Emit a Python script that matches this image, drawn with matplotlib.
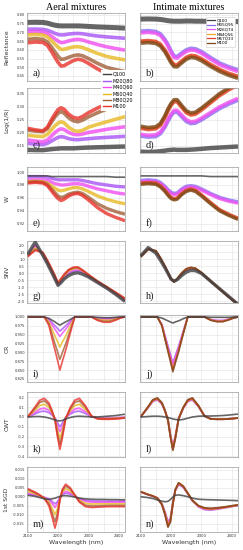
import matplotlib
matplotlib.use("Agg")
import matplotlib.pyplot as plt
from matplotlib.lines import Line2D
from matplotlib.ticker import MultipleLocator

plt.rcParams["axes.unicode_minus"] = False

W, H = 243, 550

# wavelength grids (nm)
wl_spec = [2100, 2125, 2150, 2165, 2180, 2190, 2200, 2210, 2220, 2235, 2250, 2265, 2280, 2300, 2330, 2360, 2390, 2420]
wl_deriv = [2100, 2125, 2140, 2155, 2170, 2180, 2190, 2198, 2206, 2214, 2225, 2240, 2255, 2270, 2290, 2310, 2330, 2350, 2370, 2390, 2405, 2420]

aeral_names = ["Q100", "M20Q80", "M40Q60", "M60Q40", "M80Q20", "M100"]
intimate_names = ["Q100", "M05Q95", "M26Q74", "M44Q56", "M67Q33", "M100"]
aeral_colors = ["#404040", "#a855f7", "#f04cf0", "#e8b923", "#a0613a", "#e8322b"]
intimate_colors = ["#404040", "#8a6cf0", "#f050f0", "#f5a623", "#e0402a", "#7a4a1e"]

# a) reflectance, aeral
refl_aeral = [
    [0.757, 0.758, 0.757, 0.753, 0.745, 0.741, 0.738, 0.737, 0.737, 0.737, 0.737, 0.737, 0.736, 0.734, 0.731, 0.729, 0.727, 0.724],
    [0.718, 0.719, 0.717, 0.712, 0.702, 0.694, 0.688, 0.685, 0.686, 0.690, 0.693, 0.694, 0.692, 0.686, 0.679, 0.674, 0.670, 0.666],
    [0.702, 0.704, 0.701, 0.693, 0.675, 0.662, 0.650, 0.641, 0.643, 0.651, 0.657, 0.660, 0.656, 0.645, 0.630, 0.617, 0.607, 0.598],
    [0.685, 0.688, 0.685, 0.674, 0.650, 0.632, 0.615, 0.602, 0.603, 0.610, 0.616, 0.618, 0.613, 0.600, 0.579, 0.562, 0.551, 0.542],
    [0.660, 0.664, 0.660, 0.645, 0.612, 0.587, 0.563, 0.545, 0.547, 0.557, 0.566, 0.571, 0.566, 0.550, 0.522, 0.499, 0.486, 0.475],
    [0.640, 0.645, 0.642, 0.625, 0.586, 0.556, 0.528, 0.507, 0.509, 0.524, 0.538, 0.546, 0.541, 0.522, 0.490, 0.462, 0.447, 0.436],
]
# b) reflectance, intimate
refl_intimate = [
    [0.776, 0.777, 0.776, 0.774, 0.770, 0.767, 0.765, 0.764, 0.764, 0.764, 0.765, 0.765, 0.764, 0.764, 0.763, 0.763, 0.762, 0.762],
    [0.707, 0.710, 0.705, 0.692, 0.660, 0.630, 0.595, 0.565, 0.562, 0.582, 0.600, 0.609, 0.606, 0.590, 0.556, 0.524, 0.503, 0.485],
    [0.697, 0.700, 0.695, 0.682, 0.650, 0.620, 0.585, 0.555, 0.552, 0.572, 0.590, 0.599, 0.596, 0.580, 0.546, 0.514, 0.493, 0.475],
    [0.645, 0.648, 0.643, 0.628, 0.594, 0.564, 0.532, 0.510, 0.509, 0.531, 0.552, 0.563, 0.560, 0.544, 0.511, 0.482, 0.460, 0.443],
    [0.650, 0.653, 0.648, 0.633, 0.599, 0.569, 0.537, 0.515, 0.514, 0.536, 0.557, 0.568, 0.565, 0.549, 0.516, 0.487, 0.465, 0.448],
    [0.638, 0.641, 0.636, 0.621, 0.587, 0.557, 0.525, 0.503, 0.502, 0.524, 0.545, 0.556, 0.553, 0.537, 0.504, 0.475, 0.453, 0.436],
]
# c) log(1/R), aeral
logr_aeral = [
    [0.135, 0.134, 0.134, 0.136, 0.138, 0.139, 0.140, 0.141, 0.141, 0.141, 0.141, 0.142, 0.143, 0.144, 0.145, 0.146, 0.147, 0.148],
    [0.160, 0.157, 0.155, 0.160, 0.170, 0.177, 0.183, 0.186, 0.184, 0.178, 0.175, 0.174, 0.176, 0.178, 0.181, 0.183, 0.185, 0.187],
    [0.173, 0.169, 0.166, 0.173, 0.190, 0.202, 0.211, 0.216, 0.213, 0.202, 0.195, 0.193, 0.196, 0.202, 0.208, 0.214, 0.219, 0.224],
    [0.192, 0.188, 0.186, 0.195, 0.215, 0.228, 0.238, 0.243, 0.239, 0.222, 0.210, 0.206, 0.210, 0.222, 0.233, 0.243, 0.253, 0.263],
    [0.211, 0.207, 0.205, 0.217, 0.245, 0.262, 0.276, 0.282, 0.276, 0.258, 0.247, 0.243, 0.249, 0.262, 0.278, 0.292, 0.304, 0.314],
    [0.218, 0.212, 0.208, 0.222, 0.254, 0.273, 0.290, 0.297, 0.291, 0.272, 0.260, 0.256, 0.263, 0.278, 0.296, 0.311, 0.323, 0.335],
]
# d) log(1/R), intimate
logr_intimate = [
    [0.128, 0.127, 0.128, 0.130, 0.132, 0.134, 0.135, 0.136, 0.135, 0.135, 0.135, 0.136, 0.137, 0.139, 0.142, 0.144, 0.146, 0.148],
    [0.188, 0.184, 0.186, 0.197, 0.222, 0.245, 0.266, 0.280, 0.280, 0.262, 0.244, 0.236, 0.238, 0.250, 0.272, 0.294, 0.311, 0.326],
    [0.195, 0.191, 0.193, 0.204, 0.229, 0.252, 0.273, 0.287, 0.287, 0.269, 0.251, 0.243, 0.245, 0.257, 0.279, 0.301, 0.318, 0.333],
    [0.222, 0.217, 0.220, 0.233, 0.263, 0.289, 0.310, 0.324, 0.324, 0.302, 0.282, 0.273, 0.276, 0.292, 0.320, 0.348, 0.370, 0.389],
    [0.218, 0.213, 0.216, 0.229, 0.259, 0.285, 0.306, 0.320, 0.320, 0.298, 0.278, 0.269, 0.272, 0.288, 0.316, 0.344, 0.366, 0.385],
    [0.226, 0.221, 0.224, 0.237, 0.267, 0.293, 0.314, 0.328, 0.328, 0.306, 0.286, 0.277, 0.280, 0.296, 0.324, 0.352, 0.374, 0.393],
]
# e) W, aeral
w_aeral = [
    [0.994, 0.994, 0.994, 0.994, 0.993, 0.993, 0.993, 0.993, 0.993, 0.993, 0.993, 0.993, 0.993, 0.993, 0.993, 0.993, 0.992, 0.992],
    [0.993, 0.993, 0.993, 0.992, 0.990, 0.989, 0.988, 0.988, 0.988, 0.988, 0.988, 0.988, 0.987, 0.985, 0.982, 0.980, 0.978, 0.977],
    [0.988, 0.988, 0.988, 0.987, 0.984, 0.982, 0.981, 0.980, 0.980, 0.981, 0.982, 0.982, 0.981, 0.978, 0.974, 0.971, 0.968, 0.966],
    [0.985, 0.986, 0.985, 0.983, 0.978, 0.975, 0.972, 0.971, 0.972, 0.974, 0.976, 0.976, 0.974, 0.970, 0.963, 0.958, 0.954, 0.951],
    [0.984, 0.985, 0.984, 0.981, 0.973, 0.968, 0.963, 0.961, 0.962, 0.966, 0.968, 0.969, 0.967, 0.961, 0.951, 0.944, 0.939, 0.935],
    [0.983, 0.984, 0.983, 0.979, 0.970, 0.964, 0.959, 0.956, 0.958, 0.963, 0.966, 0.967, 0.964, 0.957, 0.945, 0.936, 0.930, 0.925],
]
# f) W, intimate
w_intimate = [
    [0.994, 0.994, 0.994, 0.994, 0.994, 0.994, 0.994, 0.994, 0.994, 0.994, 0.994, 0.994, 0.994, 0.994, 0.993, 0.993, 0.993, 0.993],
    [0.987, 0.988, 0.987, 0.984, 0.978, 0.973, 0.969, 0.967, 0.968, 0.974, 0.978, 0.979, 0.978, 0.974, 0.967, 0.961, 0.957, 0.954],
    [0.985, 0.986, 0.985, 0.982, 0.976, 0.971, 0.967, 0.965, 0.966, 0.972, 0.976, 0.977, 0.976, 0.972, 0.965, 0.959, 0.955, 0.952],
    [0.982, 0.983, 0.982, 0.978, 0.971, 0.965, 0.960, 0.958, 0.959, 0.966, 0.971, 0.973, 0.971, 0.964, 0.952, 0.941, 0.934, 0.928],
    [0.983, 0.984, 0.983, 0.979, 0.972, 0.966, 0.961, 0.959, 0.960, 0.967, 0.972, 0.974, 0.972, 0.965, 0.953, 0.942, 0.935, 0.929],
    [0.981, 0.982, 0.981, 0.977, 0.970, 0.964, 0.959, 0.957, 0.958, 0.965, 0.970, 0.972, 0.970, 0.963, 0.951, 0.940, 0.933, 0.927],
]
# g) SNV, aeral
snv_aeral = [
    [1.35, 2.25, 1.30, 0.70, 0.05, -0.40, -0.85, -0.65, -0.40, -0.15, 0.00, 0.05, -0.05, -0.25, -0.65, -1.05, -1.50, -2.00],
    [1.30, 2.05, 1.35, 0.75, 0.10, -0.35, -0.80, -0.55, -0.30, 0.00, 0.15, 0.20, 0.10, -0.20, -0.62, -1.02, -1.45, -1.92],
    [1.28, 1.95, 1.40, 0.80, 0.15, -0.30, -0.76, -0.50, -0.22, 0.10, 0.25, 0.30, 0.15, -0.15, -0.60, -1.00, -1.42, -1.87],
    [1.25, 1.82, 1.45, 0.85, 0.20, -0.25, -0.72, -0.45, -0.15, 0.18, 0.33, 0.38, 0.20, -0.12, -0.58, -0.98, -1.40, -1.83],
    [1.22, 1.72, 1.48, 0.90, 0.25, -0.20, -0.70, -0.40, -0.10, 0.24, 0.40, 0.43, 0.23, -0.10, -0.56, -0.96, -1.38, -1.80],
    [1.20, 1.65, 1.50, 0.95, 0.30, -0.15, -0.68, -0.36, -0.06, 0.28, 0.44, 0.46, 0.25, -0.08, -0.55, -0.95, -1.36, -1.78],
]
# h) SNV, intimate
snv_intimate = [
    [1.25, 1.85, 1.45, 0.95, 0.40, 0.00, -0.40, -0.55, -0.45, -0.15, 0.10, 0.22, 0.20, 0.00, -0.55, -1.10, -1.65, -2.20],
    [1.22, 1.78, 1.58, 1.08, 0.48, 0.04, -0.40, -0.57, -0.42, -0.04, 0.25, 0.35, 0.31, 0.03, -0.55, -1.12, -1.67, -2.21],
    [1.21, 1.76, 1.59, 1.09, 0.49, 0.05, -0.40, -0.58, -0.41, -0.02, 0.28, 0.38, 0.33, 0.04, -0.55, -1.12, -1.68, -2.22],
    [1.20, 1.75, 1.60, 1.10, 0.50, 0.05, -0.40, -0.58, -0.40, 0.00, 0.30, 0.40, 0.35, 0.05, -0.55, -1.12, -1.68, -2.22],
    [1.19, 1.74, 1.61, 1.11, 0.51, 0.06, -0.40, -0.59, -0.39, 0.02, 0.32, 0.42, 0.36, 0.05, -0.56, -1.13, -1.69, -2.23],
    [1.18, 1.72, 1.62, 1.12, 0.52, 0.06, -0.40, -0.60, -0.38, 0.03, 0.33, 0.43, 0.37, 0.06, -0.56, -1.13, -1.69, -2.23],
]
# i) continuum removed, aeral
cr_aeral = [
    [1, 1, 1, 1, 0.996, 0.991, 0.986, 0.981, 0.977, 0.981, 0.986, 0.993, 1, 1, 1, 1, 0.999, 0.998, 0.998, 0.999, 1, 1],
    [1, 1, 1, 1, 0.994, 0.984, 0.975, 0.968, 0.960, 0.966, 0.975, 0.988, 1, 1, 1, 1, 0.997, 0.996, 0.996, 0.998, 0.999, 1],
    [1, 1, 1, 1, 0.991, 0.978, 0.965, 0.955, 0.945, 0.954, 0.965, 0.983, 1, 1, 1, 1, 0.996, 0.994, 0.994, 0.996, 0.999, 1],
    [1, 1, 1, 1, 0.986, 0.966, 0.946, 0.931, 0.915, 0.929, 0.946, 0.974, 1, 1, 1, 1, 0.994, 0.991, 0.991, 0.995, 0.998, 1],
    [1, 1, 1, 1, 0.981, 0.952, 0.924, 0.903, 0.880, 0.899, 0.924, 0.963, 1, 1, 1, 1, 0.992, 0.988, 0.988, 0.993, 0.998, 1],
    [1, 1, 1, 1, 0.976, 0.940, 0.906, 0.879, 0.850, 0.874, 0.906, 0.954, 1, 1, 1, 1, 0.990, 0.985, 0.985, 0.991, 0.997, 1],
]
# j) continuum removed, intimate
cr_intimate = [
    [1, 1, 1, 1, 0.997, 0.993, 0.989, 0.986, 0.983, 0.986, 0.989, 0.995, 1, 1, 1, 1, 0.999, 0.999, 0.999, 0.999, 1, 1],
    [1, 1, 1, 1, 0.979, 0.948, 0.918, 0.895, 0.870, 0.891, 0.918, 0.960, 1, 1, 1, 1, 0.993, 0.990, 0.990, 0.994, 0.998, 1],
    [1, 1, 1, 1, 0.978, 0.946, 0.915, 0.891, 0.865, 0.887, 0.915, 0.958, 1, 1, 1, 1, 0.993, 0.990, 0.990, 0.994, 0.998, 1],
    [1, 1, 1, 1, 0.976, 0.941, 0.907, 0.880, 0.852, 0.876, 0.907, 0.954, 1, 1, 1, 1, 0.992, 0.988, 0.988, 0.993, 0.998, 1],
    [1, 1, 1, 1, 0.976, 0.940, 0.906, 0.879, 0.850, 0.874, 0.906, 0.954, 1, 1, 1, 1, 0.991, 0.987, 0.987, 0.992, 0.997, 1],
    [1, 1, 1, 1, 0.975, 0.938, 0.902, 0.874, 0.845, 0.870, 0.902, 0.952, 1, 1, 1, 1, 0.991, 0.987, 0.987, 0.992, 0.997, 1],
]
# k) CWT, aeral
cwt_aeral = [
    [0.0, 0.005, 0.005, 0.0, -0.010, -0.020, -0.030, -0.038, -0.040, -0.035, -0.020, -0.005, 0.005, 0.008, 0.005, 0.0, 0.0, 0.005, 0.010, 0.015, 0.022, 0.028],
    [0.0, 0.033, 0.054, 0.060, 0.045, 0.021, -0.010, -0.060, -0.100, -0.065, -0.005, 0.030, 0.054, 0.060, 0.036, 0.003, -0.006, -0.007, -0.007, -0.006, -0.005, -0.003],
    [0.0, 0.050, 0.081, 0.090, 0.068, 0.032, -0.015, -0.090, -0.150, -0.098, -0.008, 0.045, 0.081, 0.090, 0.054, 0.005, -0.009, -0.011, -0.011, -0.009, -0.007, -0.005],
    [0.0, 0.072, 0.117, 0.130, 0.098, 0.046, -0.022, -0.132, -0.220, -0.143, -0.011, 0.065, 0.117, 0.130, 0.078, 0.007, -0.013, -0.016, -0.016, -0.013, -0.010, -0.007],
    [0.0, 0.091, 0.149, 0.165, 0.124, 0.058, -0.028, -0.168, -0.280, -0.182, -0.014, 0.083, 0.149, 0.165, 0.099, 0.008, -0.017, -0.020, -0.020, -0.017, -0.013, -0.008],
    [0.0, 0.105, 0.171, 0.190, 0.143, 0.067, -0.033, -0.198, -0.330, -0.215, -0.017, 0.095, 0.171, 0.190, 0.114, 0.010, -0.019, -0.023, -0.023, -0.019, -0.015, -0.010],
]
# l) CWT, intimate
cwt_intimate = [
    [0.0, 0.005, 0.008, 0.008, 0.005, 0.0, -0.005, -0.012, -0.020, -0.025, -0.030, -0.025, -0.012, 0.0, 0.008, 0.010, 0.010, 0.012, 0.015, 0.020, 0.025, 0.030],
    [0.0, 0.096, 0.158, 0.175, 0.131, 0.061, -0.030, -0.180, -0.300, -0.195, -0.015, 0.088, 0.158, 0.175, 0.105, 0.009, -0.018, -0.021, -0.021, -0.018, -0.014, -0.009],
    [0.0, 0.099, 0.162, 0.180, 0.135, 0.063, -0.031, -0.186, -0.310, -0.202, -0.016, 0.090, 0.162, 0.180, 0.108, 0.009, -0.018, -0.022, -0.022, -0.018, -0.014, -0.009],
    [0.0, 0.102, 0.167, 0.185, 0.139, 0.065, -0.032, -0.192, -0.320, -0.208, -0.016, 0.093, 0.167, 0.185, 0.111, 0.009, -0.019, -0.022, -0.022, -0.019, -0.015, -0.009],
    [0.0, 0.105, 0.171, 0.190, 0.143, 0.067, -0.033, -0.198, -0.330, -0.215, -0.017, 0.095, 0.171, 0.190, 0.114, 0.010, -0.019, -0.023, -0.023, -0.019, -0.015, -0.010],
    [0.0, 0.107, 0.176, 0.195, 0.146, 0.068, -0.034, -0.204, -0.340, -0.221, -0.017, 0.098, 0.176, 0.195, 0.117, 0.010, -0.020, -0.023, -0.023, -0.020, -0.016, -0.010],
]
# m) 1st SG derivative, aeral
sgd_aeral = [
    [0.0008, 0.0002, -0.0005, -0.0012, -0.0015, -0.0012, -0.0008, -0.0003, 0.0002, 0.0005, 0.0006, 0.0003, -0.0002, -0.0008, -0.0012, -0.0014, -0.0015, -0.0015, -0.0016, -0.0016, -0.0017, -0.0017],
    [0.0015, 0.0008, 0.0003, -0.0003, -0.0012, -0.0025, -0.0040, -0.0028, -0.0005, 0.0011, 0.0020, 0.0014, 0.0002, -0.0010, -0.0020, -0.0024, -0.0025, -0.0025, -0.0025, -0.0025, -0.0025, -0.0025],
    [0.0020, 0.0011, 0.0004, -0.0005, -0.0018, -0.0038, -0.0060, -0.0041, -0.0007, 0.0017, 0.0030, 0.0021, 0.0004, -0.0013, -0.0026, -0.0030, -0.0030, -0.0030, -0.0030, -0.0030, -0.0030, -0.0030],
    [0.0030, 0.0016, 0.0006, -0.0007, -0.0029, -0.0063, -0.0100, -0.0069, -0.0012, 0.0026, 0.0045, 0.0032, 0.0007, -0.0020, -0.0037, -0.0041, -0.0040, -0.0040, -0.0040, -0.0040, -0.0040, -0.0040],
    [0.0040, 0.0022, 0.0008, -0.0009, -0.0040, -0.0088, -0.0140, -0.0096, -0.0016, 0.0034, 0.0060, 0.0043, 0.0009, -0.0026, -0.0048, -0.0052, -0.0051, -0.0050, -0.0049, -0.0049, -0.0049, -0.0049],
    [0.0045, 0.0025, 0.0010, -0.0010, -0.0050, -0.0110, -0.0175, -0.0120, -0.0020, 0.0040, 0.0070, 0.0050, 0.0010, -0.0030, -0.0055, -0.0060, -0.0058, -0.0056, -0.0055, -0.0055, -0.0055, -0.0055],
]
# n) 1st SG derivative, intimate
sgd_intimate = [
    [0.0000, -0.0005, -0.0010, -0.0018, -0.0025, -0.0028, -0.0026, -0.0015, -0.0002, 0.0008, 0.0010, 0.0006, 0.0000, -0.0008, -0.0014, -0.0016, -0.0017, -0.0018, -0.0019, -0.0020, -0.0021, -0.0022],
    [0.0027, 0.0011, 0.0003, -0.0007, -0.0038, -0.0084, -0.0142, -0.0118, -0.0034, 0.0034, 0.0068, 0.0052, 0.0017, -0.0022, -0.0056, -0.0072, -0.0074, -0.0070, -0.0064, -0.0058, -0.0053, -0.0049],
    [0.0027, 0.0011, 0.0003, -0.0007, -0.0039, -0.0087, -0.0147, -0.0122, -0.0035, 0.0035, 0.0070, 0.0054, 0.0018, -0.0022, -0.0055, -0.0070, -0.0073, -0.0069, -0.0063, -0.0057, -0.0052, -0.0048],
    [0.0028, 0.0012, 0.0004, -0.0007, -0.0041, -0.0092, -0.0157, -0.0130, -0.0037, 0.0037, 0.0074, 0.0057, 0.0019, -0.0021, -0.0052, -0.0066, -0.0069, -0.0066, -0.0061, -0.0056, -0.0051, -0.0047],
    [0.0028, 0.0012, 0.0004, -0.0008, -0.0044, -0.0097, -0.0165, -0.0136, -0.0039, 0.0039, 0.0076, 0.0058, 0.0019, -0.0020, -0.0051, -0.0064, -0.0067, -0.0064, -0.0060, -0.0055, -0.0050, -0.0047],
    [0.0028, 0.0012, 0.0004, -0.0008, -0.0045, -0.0100, -0.0170, -0.0140, -0.0040, 0.0040, 0.0078, 0.0060, 0.0020, -0.0020, -0.0050, -0.0062, -0.0065, -0.0062, -0.0058, -0.0053, -0.0049, -0.0046],
]

# row layout in pixels: (top, bottom), y-limits, tick step, label, data, line widths
rows = [
    (13, 81, (0.421, 0.811), 0.05, "Reflectance", wl_spec, refl_aeral, refl_intimate, 2.6, 3.6, "a)", "b)"),
    (88, 153, (0.123, 0.373), 0.05, "Log(1/R)", wl_spec, logr_aeral, logr_intimate, 2.6, 3.2, "c)", "d)"),
    (167, 231, (0.9092, 1.0077), 0.02, "W", wl_spec, w_aeral, w_intimate, 2.4, 1.2, "e)", "f)"),
    (241, 303, (-2.11, 2.32), 0.5, "SNV", wl_spec, snv_aeral, snv_intimate, 1.4, 2.4, "g)", "h)"),
    (315, 382, (0.8165, 1.0056), 0.025, "CR", wl_deriv, cr_aeral, cr_intimate, 1.2, 1.2, "i)", "j)"),
    (392, 457, (-0.408, 0.255), 0.1, "CWT", wl_deriv, cwt_aeral, cwt_intimate, 1.3, 1.2, "k)", "l)"),
    (467, 532, (-0.0197, 0.0166), 0.005, "1st SGD", wl_deriv, sgd_aeral, sgd_intimate, 1.3, 1.2, "m)", "n)"),
]
cols = [(27, 125), (140, 238)]

fig = plt.figure(figsize=(W / 100, H / 100), dpi=100)

for r, (top, bot, ylim, step, ylab, wl, left, right, lw_mix, lw_q, lab_l, lab_r) in enumerate(rows):
    for c, (x0, x1) in enumerate(cols):
        ax = fig.add_axes([x0 / W, 1 - bot / H, (x1 - x0) / W, (bot - top) / H])
        data = left if c == 0 else right
        colors = aeral_colors if c == 0 else intimate_colors
        for i in range(1, len(data)):
            ax.plot(wl, data[i], color=colors[i], lw=lw_mix, alpha=0.8,
                    solid_capstyle="butt", zorder=2 + i * 0.1)
        ax.plot(wl, data[0], color=colors[0], lw=lw_q, alpha=0.8,
                solid_capstyle="butt", zorder=3)

        ax.set_xlim(2098, 2420)
        ax.set_ylim(*ylim)
        ax.xaxis.set_major_locator(MultipleLocator(100))
        ax.xaxis.set_minor_locator(MultipleLocator(50))
        ax.yaxis.set_major_locator(MultipleLocator(step))
        ax.grid(True, which="both", axis="x", color="#e2e2e2", lw=0.4)
        ax.grid(True, which="major", axis="y", color="#e2e2e2", lw=0.4)
        ax.set_axisbelow(True)
        ax.tick_params(which="both", length=0, pad=1.5, labelsize=2.6, labelcolor="#333333")
        for s in ax.spines.values():
            s.set_color("#9a9a9a")
            s.set_linewidth(0.5)
        if c == 1:
            ax.tick_params(labelleft=False)
        if r < len(rows) - 1:
            ax.tick_params(labelbottom=False)
        else:
            ax.tick_params(axis="x", labelsize=2.9)
            ax.set_xlabel("Wavelength (nm)", fontsize=4.5, labelpad=1.5, color="#333333")
        ax.text(0.06, 0.04, lab_l if c == 0 else lab_r, transform=ax.transAxes,
                family="Liberation Serif", fontsize=7.5, color="#222222",
                ha="left", va="bottom", zorder=10)
    fig.text(7 / W, 1 - (top + bot) / 2 / H, ylab, rotation=90, ha="center",
             va="center", fontsize=4.3, color="#333333")

fig.text(76 / W, 1 - 7.5 / H, "Aeral mixtures", ha="center", va="center",
         family="Liberation Serif", fontsize=7.2)
fig.text(189 / W, 1 - 7.5 / H, "Intimate mixtures", ha="center", va="center",
         family="Liberation Serif", fontsize=7.2)

# legends use thin handles like the original
h_aeral = [Line2D([], [], color=col, lw=1.0) for col in aeral_colors]
h_intim = [Line2D([], [], color=col, lw=0.9) for col in intimate_colors]

fig.legend(h_aeral, aeral_names, loc="upper left",
           bbox_to_anchor=(99 / W, 1 - 68 / H), fontsize=3.5, frameon=True,
           facecolor="white", edgecolor="none", framealpha=1, fancybox=False,
           handlelength=1.6, labelspacing=0.3, borderpad=0.3, handletextpad=0.4)
leg_r = fig.legend(h_intim, intimate_names, loc="upper right",
                   bbox_to_anchor=(237 / W, 1 - 15 / H), fontsize=3.0, frameon=True,
                   facecolor="white", edgecolor="#cccccc", framealpha=1, fancybox=False,
                   handlelength=1.8, labelspacing=0.15, borderpad=0.3, handletextpad=0.4)
leg_r.get_frame().set_linewidth(0.4)

fig.savefig("out.png", dpi=100)
